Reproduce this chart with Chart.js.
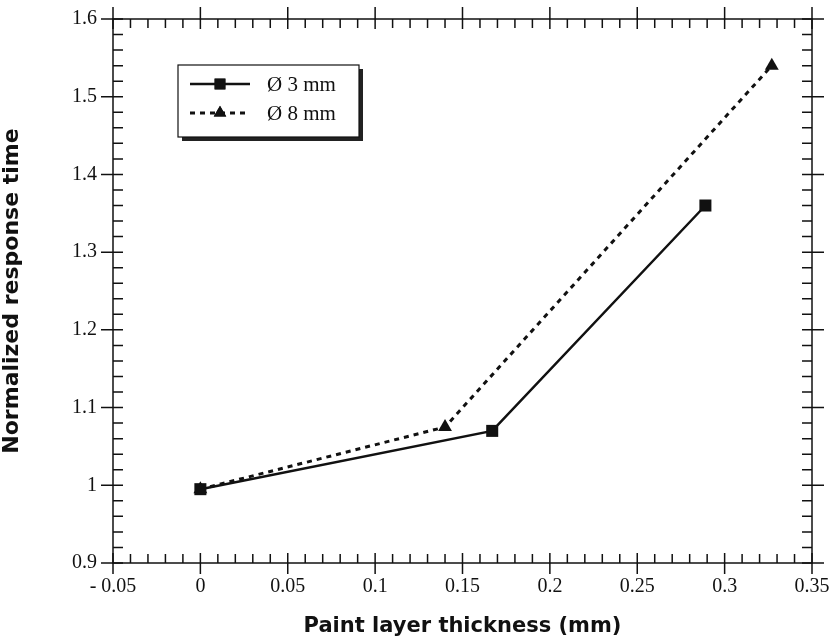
<!DOCTYPE html>
<html>
<head>
<meta charset="utf-8">
<title>Normalized response time vs paint layer thickness</title>
<script src="https://cdn.jsdelivr.net/npm/chart.js@4"></script>
<style>
  body { margin: 0; background: #fff; }
</style>
</head>
<body>
<canvas id="responseChart" width="834" height="641"></canvas>
<script>
// Values
const seriesLabels = ['Ø 3 mm', 'Ø 8 mm'];
const thickness3mm = [0, 0.167, 0.289];
const response3mm = [0.995, 1.07, 1.36];
const thickness8mm = [0, 0.140, 0.327];
const response8mm = [0.995, 1.075, 1.54];
const xTickLabels = ['- 0.05', '0', '0.05', '0.1', '0.15', '0.2', '0.25', '0.3', '0.35'];
const yTickLabels = ['0.9', '1', '1.1', '1.2', '1.3', '1.4', '1.5', '1.6'];

const ink = '#111';
const tickFont = { family: '"Liberation Serif", serif', size: 20 };

// Box round the plot with crossing major ticks and inside minor ticks on all four sides
const frameTicks = {
    id: 'frameTicks',
    afterDraw(chart) {
        const { ctx, chartArea: { left, right, top, bottom }, scales: { x, y } } = chart;
        ctx.save();
        ctx.strokeStyle = ink;
        ctx.lineWidth = 1.5;
        ctx.strokeRect(left, top, right - left, bottom - top);
        ctx.beginPath();
        x.ticks.forEach((t, i) => {
            const px = x.getPixelForValue(t.value);
            ctx.moveTo(px, bottom + 11); ctx.lineTo(px, bottom - 10);
            ctx.moveTo(px, top - 12); ctx.lineTo(px, top + 10);
            if (i < x.ticks.length - 1) {
                const step = (x.ticks[i + 1].value - t.value) / 5;
                for (let k = 1; k < 5; k++) {
                    const mx = x.getPixelForValue(t.value + k * step);
                    ctx.moveTo(mx, bottom); ctx.lineTo(mx, bottom - 9);
                    ctx.moveTo(mx, top); ctx.lineTo(mx, top + 9);
                }
            }
        });
        y.ticks.forEach((t, i) => {
            const py = y.getPixelForValue(t.value);
            ctx.moveTo(left - 12, py); ctx.lineTo(left + 10, py);
            ctx.moveTo(right - 10, py); ctx.lineTo(right + 12, py);
            if (i < y.ticks.length - 1) {
                const step = (y.ticks[i + 1].value - t.value) / 5;
                for (let k = 1; k < 5; k++) {
                    const my = y.getPixelForValue(t.value + k * step);
                    ctx.moveTo(left, my); ctx.lineTo(left + 10, my);
                    ctx.moveTo(right, my); ctx.lineTo(right - 10, my);
                }
            }
        });
        ctx.stroke();
        ctx.restore();
    }
};

// Boxed legend with a drop shadow, drawn from the datasets' own styles
const boxLegend = {
    id: 'boxLegend',
    afterDraw(chart) {
        const { ctx } = chart;
        const bx = 178, by = 65, bw = 181, bh = 72;
        ctx.save();
        ctx.fillStyle = '#222';
        ctx.fillRect(bx + 4, by + 4, bw, bh);
        ctx.fillStyle = '#fff';
        ctx.fillRect(bx, by, bw, bh);
        ctx.strokeStyle = ink;
        ctx.lineWidth = 1.2;
        ctx.strokeRect(bx, by, bw, bh);
        chart.data.datasets.forEach((ds, i) => {
            const rowY = by + 19 + i * 29;
            ctx.beginPath();
            ctx.setLineDash(ds.borderDash || []);
            ctx.lineWidth = ds.borderWidth;
            ctx.strokeStyle = ds.borderColor;
            ctx.moveTo(bx + 12, rowY);
            ctx.lineTo(bx + 72, rowY);
            ctx.stroke();
            ctx.setLineDash([]);
            ctx.fillStyle = ds.backgroundColor;
            Chart.helpers.drawPoint(ctx, { pointStyle: ds.pointStyle, radius: ds.pointRadius * 0.9, rotation: 0, borderWidth: 0 }, bx + 42, rowY);
            ctx.fill();
            ctx.fillStyle = ink;
            ctx.font = '21px "Liberation Serif", serif';
            ctx.textBaseline = 'middle';
            ctx.fillText(ds.label, bx + 89, rowY + 1);
        });
        ctx.restore();
    }
};

// Stop the end tick labels from pushing the plot area inwards
const noEdgePadding = (scale) => {
    scale.paddingLeft = 0;
    scale.paddingRight = 0;
    scale.paddingTop = 0;
    scale.paddingBottom = 0;
};

const ctx = document.getElementById('responseChart').getContext('2d');
const responseChart = new Chart(ctx, {
    type: 'line',
    data: {
        datasets: [{
            label: seriesLabels[0],
            data: thickness3mm.map((v, i) => ({ x: v, y: response3mm[i] })),
            borderColor: ink,
            backgroundColor: ink,
            borderWidth: 2.5,
            pointStyle: 'rect',
            pointRadius: 8.5,
            pointBorderWidth: 0
        }, {
            label: seriesLabels[1],
            data: thickness8mm.map((v, i) => ({ x: v, y: response8mm[i] })),
            borderColor: ink,
            backgroundColor: ink,
            borderWidth: 3,
            borderDash: [5, 5],
            pointStyle: 'triangle',
            pointRadius: 8,
            pointBorderWidth: 0
        }]
    },
    options: {
        responsive: false,
        animation: false,
        layout: { padding: { left: 0, top: 19, right: 22, bottom: 0 } },
        plugins: {
            legend: { display: false },
            tooltip: { enabled: false }
        },
        scales: {
            x: {
                type: 'linear',
                min: -0.05,
                max: 0.35,
                grid: { display: false, drawTicks: false },
                border: { display: false },
                ticks: {
                    stepSize: 0.05,
                    padding: 12,
                    color: ink,
                    font: tickFont,
                    maxRotation: 0,
                    callback: (value, index) => xTickLabels[index]
                },
                title: {
                    display: true,
                    text: 'Paint layer thickness (mm)',
                    color: ink,
                    font: { family: '"DejaVu Sans", sans-serif', size: 21, weight: 'bold', lineHeight: 1 },
                    padding: { top: 0, bottom: 4 }
                },
                afterFit: (scale) => { scale.height = 78; noEdgePadding(scale); }
            },
            y: {
                type: 'linear',
                min: 0.9,
                max: 1.6,
                grid: { display: false, drawTicks: false },
                border: { display: false },
                ticks: {
                    stepSize: 0.1,
                    padding: 16,
                    color: ink,
                    font: tickFont,
                    callback: (value, index) => yTickLabels[index]
                },
                title: {
                    display: true,
                    text: 'Normalized response time',
                    color: ink,
                    font: { family: '"DejaVu Sans", sans-serif', size: 22, weight: 'bold', lineHeight: 1 },
                    padding: { top: 1, bottom: 0 }
                },
                afterFit: (scale) => { scale.width = 113; noEdgePadding(scale); }
            }
        }
    },
    plugins: [frameTicks, boxLegend]
});
</script>
</body>
</html>
